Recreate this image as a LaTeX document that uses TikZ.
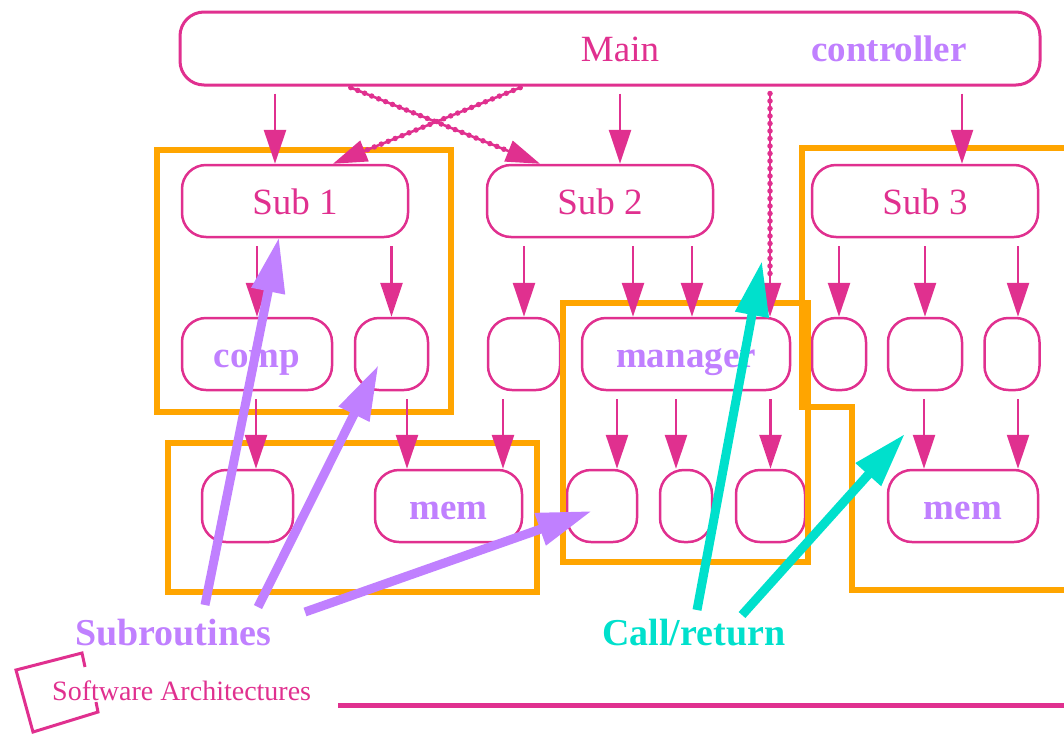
\documentclass[tikz,border=0pt]{standalone}
\usepackage{fontspec}
\setmainfont{Liberation Serif}
\usetikzlibrary{arrows.meta,calc}

\definecolor{pk}{HTML}{E0308F}
\definecolor{lav}{HTML}{C080FF}
\definecolor{tq}{HTML}{00E0CC}
\definecolor{og}{HTML}{FFA500}

\tikzset{
  bigtext/.style={font=\fontsize{37}{40}\selectfont},
  unit/.style={draw=pk, line width=2.5pt, rounded corners=24pt, inner sep=0pt,
    minimum height=72pt, bigtext, text height=26pt, text depth=0pt},
  pktext/.style={text=pk},
  lavtext/.style={text=lav, font=\fontsize{37}{40}\selectfont\bfseries},
  grp/.style={draw=og, line width=6pt},
  call/.style={draw=pk, line width=2.5pt, -{Triangle[length=34pt,width=22pt]}, shorten <=8pt},
  bumpy/.style={postaction={draw=pk, -, line width=5.5pt, dash pattern=on 0pt off 7.5pt,
    line cap=round, shorten >=36pt}},
  thick arrow/.style={line width=9pt, -{Triangle[length=55pt,width=32pt]}},
  label/.style={anchor=base west, inner sep=0pt, font=\fontsize{38}{40}\selectfont\bfseries}
}

\begin{document}
\begin{tikzpicture}[x=1pt, y=-1pt]
\useasboundingbox (0,0) rectangle (1064,734);

% main controller
\node[unit, line width=3pt, minimum width=860pt, minimum height=73pt] (main) at (610,48.5) {};
\node[bigtext, text height=26pt, text depth=0pt, inner sep=0pt, pktext] (mainlbl) at (620,48.5) {Main};
\node[lavtext, text height=26pt, text depth=0pt, inner sep=0pt] (ctrllbl) at (889,48.5) {controller};

% subsystems
\node[unit, minimum width=226pt, pktext] (sub1) at (295,201) {Sub 1};
\node[unit, minimum width=226pt, pktext] (sub2) at (600,201) {Sub 2};
\node[unit, minimum width=226pt, pktext] (sub3) at (925,201) {Sub 3};

% second level
\node[unit, minimum width=150pt, lavtext] (comp) at (257,354) {comp};
\node[unit, minimum width=73pt] (b12) at (391.5,354) {};
\node[unit, minimum width=72pt] (b21) at (524,354) {};
\node[unit, minimum width=208pt, lavtext] (manager) at (686,354) {manager};
\node[unit, minimum width=54pt] (b31) at (839,354) {};
\node[unit, minimum width=74pt] (b32) at (925,354) {};
\node[unit, minimum width=55pt] (b33) at (1012,354) {};

% third level
\node[unit, minimum width=91pt] (b11) at (247.5,506) {};
\node[unit, minimum width=147pt, lavtext] (mem1) at (448.5,506) {mem};
\node[unit, minimum width=70pt] (m1) at (602,506) {};
\node[unit, minimum width=52pt] (m2) at (686,506) {};
\node[unit, minimum width=69pt] (m3) at (770.5,506) {};
\node[unit, minimum width=150pt, lavtext] (mem2) at (963,506) {mem};

% grouping frames
\draw[grp] (157,150) rectangle (451,412);
\draw[grp] (168,443) rectangle (537,592);
\draw[grp] (563,303) rectangle (808,562);
\draw[grp, line join=miter] (1070,148) -- (802,148) -- (802,407) -- (852,407) -- (852,590) -- (1070,590);

% calls from the main controller
\coordinate (t1) at ([xshift=-20pt]sub1.north);
\coordinate (t2) at ([xshift=20pt]sub2.north);
\coordinate (t3) at ([xshift=37pt]sub3.north);
\coordinate (tm) at ([xshift=84pt]manager.north);
\draw[call, shorten <=7pt] (main.south -| t1) -- (t1);
\draw[call, shorten <=7pt] (main.south -| t2) -- (t2);
\draw[call, shorten <=7pt] (main.south -| t3) -- (t3);
\draw[call, bumpy, shorten <=7pt] (main.south -| tm) -- (tm);
\draw[call, bumpy, shorten <=3pt] ([xshift=-262pt]main.south) -- ([xshift=-60pt]sub2.north);
\draw[call, bumpy, shorten <=3pt] ([xshift=-87pt]main.south) -- ([xshift=38pt]sub1.north);

% calls from the subsystems
\coordinate (u1) at ([xshift=-53pt]manager.north);
\coordinate (u2) at ([xshift=6pt]manager.north);
\coordinate (u3) at ([xshift=6pt]b33.north);
\draw[call] (sub1.south -| comp.north) -- (comp.north);
\draw[call] (sub1.south -| b12.north) -- (b12.north);
\draw[call] (sub2.south -| b21.north) -- (b21.north);
\draw[call] (sub2.south -| u1) -- (u1);
\draw[call] (sub2.south -| u2) -- (u2);
\draw[call] (sub3.south -| b31.north) -- (b31.north);
\draw[call] (sub3.south -| b32.north) -- (b32.north);
\draw[call] (sub3.south -| u3) -- (u3);

% calls into the third level
\coordinate (v1) at ([xshift=8.5pt]b11.north);
\coordinate (v2) at ([xshift=-41.5pt]mem1.north);
\coordinate (v3) at ([xshift=54.5pt]mem1.north);
\coordinate (v4) at ([xshift=15pt]m1.north);
\coordinate (v5) at ([xshift=-10pt]m2.north);
\coordinate (v6) at ([xshift=-39pt]mem2.north);
\coordinate (v7) at ([xshift=55pt]mem2.north);
\draw[call] (comp.south -| v1) -- (v1);
\draw[call] (b12.south -| v2) -- (v2);
\draw[call] (b21.south -| v3) -- (v3);
\draw[call] (manager.south -| v4) -- (v4);
\draw[call] (manager.south -| v5) -- (v5);
\draw[call] (manager.south -| m3.north) -- (m3.north);
\draw[call] (b32.south -| v6) -- (v6);
\draw[call] (b33.south -| v7) -- (v7);

% captions
\node[label, text=lav] (sublbl) at (75,645) {Subroutines};
\node[label, text=tq] (crlbl) at (602,645) {Call/return};

% pointers from the captions
\coordinate (p1) at (205,605);
\coordinate (p2) at (258,607);
\coordinate (p3) at (305,612);
\coordinate (q1) at (697,610);
\coordinate (q2) at (742,615);
\draw[thick arrow, lav] (p1) -- ($(sub1.south)+(-16,-1)$);
\draw[thick arrow, lav] (p2) -- ($(b12.center)+(-13,11)$);
\draw[thick arrow, lav] (p3) -- ($(m1.center)+(-10,5)$);
\draw[thick arrow, tq] (q1) -- ($(manager.north)+(76,-56)$);
\draw[thick arrow, tq] (q2) -- ($(mem2.north)+(-58,-35)$);

% footer
\node[anchor=base west, inner sep=0pt, text=pk, font=\fontsize{28}{30}\selectfont] (footer) at (52,700) {Software Architectures};
\draw[pk, line width=3pt, line join=miter] (85,667) -- (82,653) -- (16,670) -- (33,732) -- (98,712) -- (96,702);
\coordinate (ruleA) at (338,705);
\coordinate (ruleB) at (1064,705);
\draw[pk, line width=5pt] (ruleA) -- (ruleB);
\end{tikzpicture}
\end{document}
